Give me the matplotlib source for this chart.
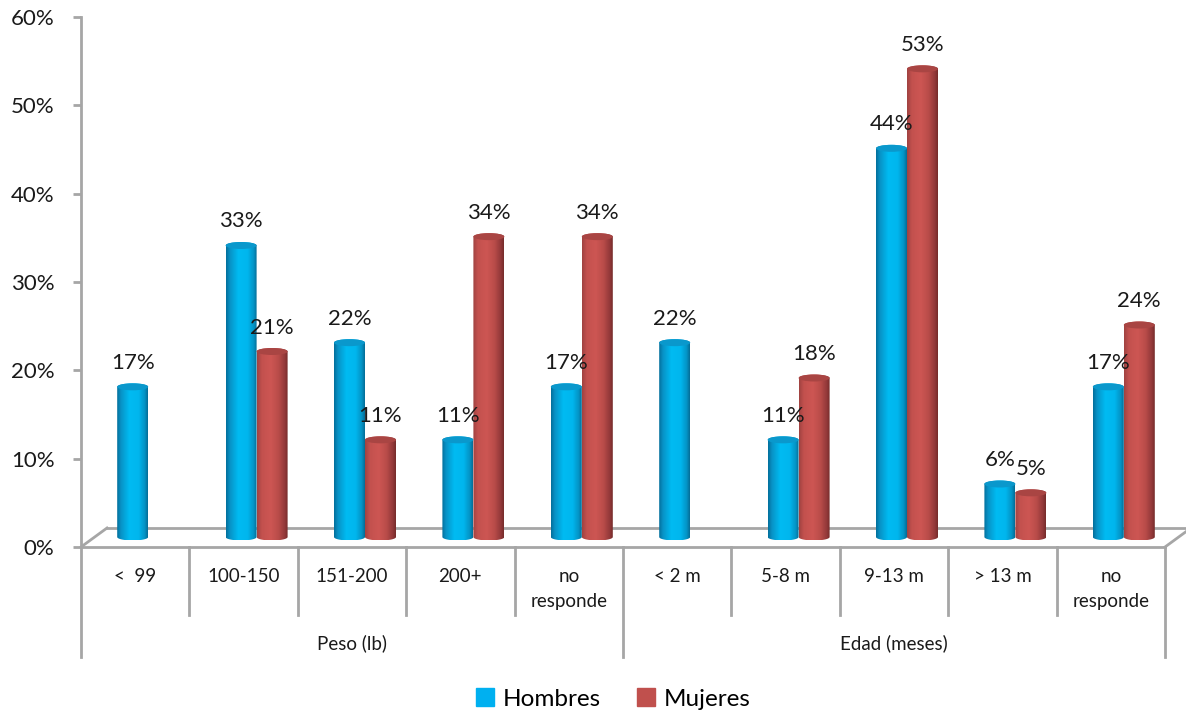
import numpy as np
import matplotlib.pyplot as plt
from matplotlib.colors import LinearSegmentedColormap
from matplotlib.patches import Ellipse, PathPatch, Patch
from matplotlib.path import Path

plt.rcParams['font.family'] = ['Lato', 'DejaVu Sans']

# datos
categorias = ['<  99', '100-150', '151-200', '200+', 'no\nresponde',
              '< 2 m', '5-8 m', '9-13 m', '> 13 m', 'no\nresponde']
grupos = ['Peso (lb)', 'Edad (meses)']
hombres = [17, 33, 22, 11, 17, 22, 11, 44, 6, 17]
mujeres = [0, 21, 11, 34, 34, 0, 18, 53, 5, 24]
yticks = [0, 10, 20, 30, 40, 50, 60]

azul = '#00B0F0'
rojo = '#C0504D'
gris = '#A6A6A6'

W, H = 1186, 711
fig = plt.figure(figsize=(W / 100, H / 100), dpi=100)
ax = fig.add_axes([81 / W, (H - 547) / H, (1165 - 81) / W, (547 - 17) / H])

# unidades de datos por pixel
px_x = 10 / (1165 - 81)
px_y = 60 / (547 - 17)

# profundidad del piso 3D
prof_x, prof_y = 26 * px_x, 19 * px_y
mid_x, mid_y = prof_x / 2, 10 * px_y

cmap_azul = LinearSegmentedColormap.from_list('az', [
    (0, '#03709C'), (0.12, '#0892C6'), (0.4, '#00BBF2'),
    (0.7, '#00B6EE'), (0.9, '#0494C6'), (1, '#056E98')])
cmap_rojo = LinearSegmentedColormap.from_list('ro', [
    (0, '#A04341'), (0.15, '#C3514E'), (0.45, '#CD5653'),
    (0.7, '#B94C49'), (0.9, '#94393A'), (1, '#772C2B')])

hw = 15.5 * px_x
eh = 3.5 * px_y


def cilindro(xc, valor, cmap, tapa):
    yb = mid_y
    yt = mid_y + valor
    t1 = np.linspace(np.pi, 2 * np.pi, 40)
    t2 = np.linspace(0, np.pi, 40)
    xs = np.concatenate([xc + hw * np.cos(t1), xc + hw * np.cos(t2)])
    ys = np.concatenate([yb + eh * np.sin(t1), yt + eh * np.sin(t2)])
    cuerpo = PathPatch(Path(np.column_stack([xs, ys])), fc='none', ec='none')
    ax.add_patch(cuerpo)
    grad = np.linspace(0, 1, 64).reshape(1, -1)
    im = ax.imshow(grad, cmap=cmap, extent=[xc - hw, xc + hw, yb - eh, yt + eh],
                   aspect='auto', origin='lower', zorder=2, interpolation='bilinear')
    im.set_clip_path(cuerpo)
    ax.add_patch(Ellipse((xc, yt), 2 * hw, 2 * eh, fc=tapa, ec='none', zorder=3))
    return yt


# piso
ax.plot([0, 10], [0, 0], color=gris, lw=2, clip_on=False, zorder=1)
ax.plot([prof_x, 10 + prof_x], [prof_y, prof_y], color=gris, lw=2, clip_on=False, zorder=1)
ax.plot([0, prof_x], [0, prof_y], color=gris, lw=2, clip_on=False, zorder=1)
ax.plot([10, 10 + prof_x], [0, prof_y], color=gris, lw=2, clip_on=False, zorder=1)

# barras
for i in range(len(categorias)):
    centro = i + 0.5 + mid_x
    for valor, dx, cmap, tapa in [(hombres[i], -hw, cmap_azul, '#0A98CC'),
                                  (mujeres[i], hw, cmap_rojo, '#A94543')]:
        if valor <= 0:
            continue
        yt = cilindro(centro + dx, valor, cmap, tapa)
        ax.text(centro + dx, yt + 24 * px_y, f'{valor}%', ha='center', va='center',
                fontsize=16, color='#1a1a1a', zorder=4)

ax.set_xlim(0, 10)
ax.set_ylim(0, 60)

# eje vertical y tabla de categorias
fondo = -(657 - 547) * px_y
ax.plot([0, 0], [60, fondo], color=gris, lw=2, clip_on=False)
for x in [5, 10]:
    ax.plot([x, x], [0, fondo], color=gris, lw=2, clip_on=False)
for x in range(1, 10):
    if x != 5:
        ax.plot([x, x], [0, -(615 - 547) * px_y], color=gris, lw=2, clip_on=False)

for i, cat in enumerate(categorias):
    for j, linea in enumerate(cat.split('\n')):
        ax.text(i + 0.5, -(577 - 547 + 25 * j) * px_y, linea, ha='center', va='center',
                fontsize=13.5, color='#1a1a1a')
for k, g in enumerate(grupos):
    ax.text(2.5 + 5 * k, -(643 - 547) * px_y, g, ha='center', va='center',
            fontsize=13.5, color='#1a1a1a')

for s in ax.spines.values():
    s.set_visible(False)
ax.set_xticks([])
ax.set_yticks(yticks)
ax.set_yticklabels([f'{v}%' for v in yticks])
ax.tick_params(axis='y', length=6, width=2, color=gris, pad=13, labelsize=16,
               labelcolor='#1a1a1a')

fig.legend(handles=[Patch(color=azul, label='Hombres'), Patch(color=rojo, label='Mujeres')],
           loc='center', bbox_to_anchor=(613 / W, 1 - 699 / H), ncol=2, frameon=False,
           fontsize=17.5, handlelength=0.75, handleheight=0.75, handletextpad=0.35,
           columnspacing=1.5)

fig.savefig('out.png', dpi=100)
